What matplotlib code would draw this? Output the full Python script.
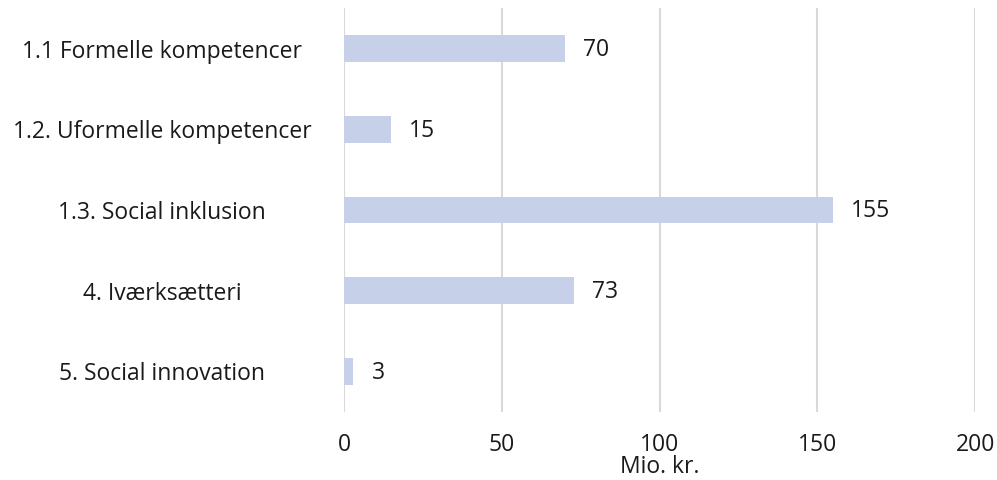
import matplotlib
matplotlib.use("Agg")
import matplotlib.pyplot as plt

# data
kategorier = ['1.1 Formelle kompetencer', '1.2. Uformelle kompetencer',
              '1.3. Social inklusion', '4. Iværksætteri', '5. Social innovation']
vaerdier = [70, 15, 155, 73, 3]
x_ticks = [0, 50, 100, 150, 200]

plt.rcParams['font.family'] = ['Open Sans', 'DejaVu Sans']
fs = 16.5

fig = plt.figure(figsize=(9.97, 4.8), dpi=100)
ax = fig.add_axes([0.345, 0.142, 0.633, 0.841])

pos = list(range(len(kategorier)))
ax.barh(pos, vaerdier, height=0.33, color='#c6d0e8', zorder=3)

for p, v in zip(pos, vaerdier):
    ax.annotate(str(v), (v, p), xytext=(13, -1), textcoords='offset points',
                va='center', ha='left', fontsize=fs, color='#1a1a1a')

ax.set_ylim(4.5, -0.5)
ax.set_xlim(0, 200)
ax.set_xticks(x_ticks)
ax.set_yticks(pos)
ax.set_yticklabels(kategorier)
for lbl in ax.get_yticklabels():
    lbl.set_horizontalalignment('center')
ax.tick_params(axis='y', length=0, pad=131, labelsize=fs, labelcolor='#1a1a1a')
ax.tick_params(axis='x', length=0, pad=15, labelsize=fs, labelcolor='#1a1a1a')

ax.grid(axis='x', color='#d9d9d9', linewidth=1.5, zorder=0)
for s in ax.spines.values():
    s.set_visible(False)

ax.set_xlabel('Mio. kr.', fontsize=fs, color='#1a1a1a', labelpad=-1)

fig.savefig('out.png', dpi=100)
